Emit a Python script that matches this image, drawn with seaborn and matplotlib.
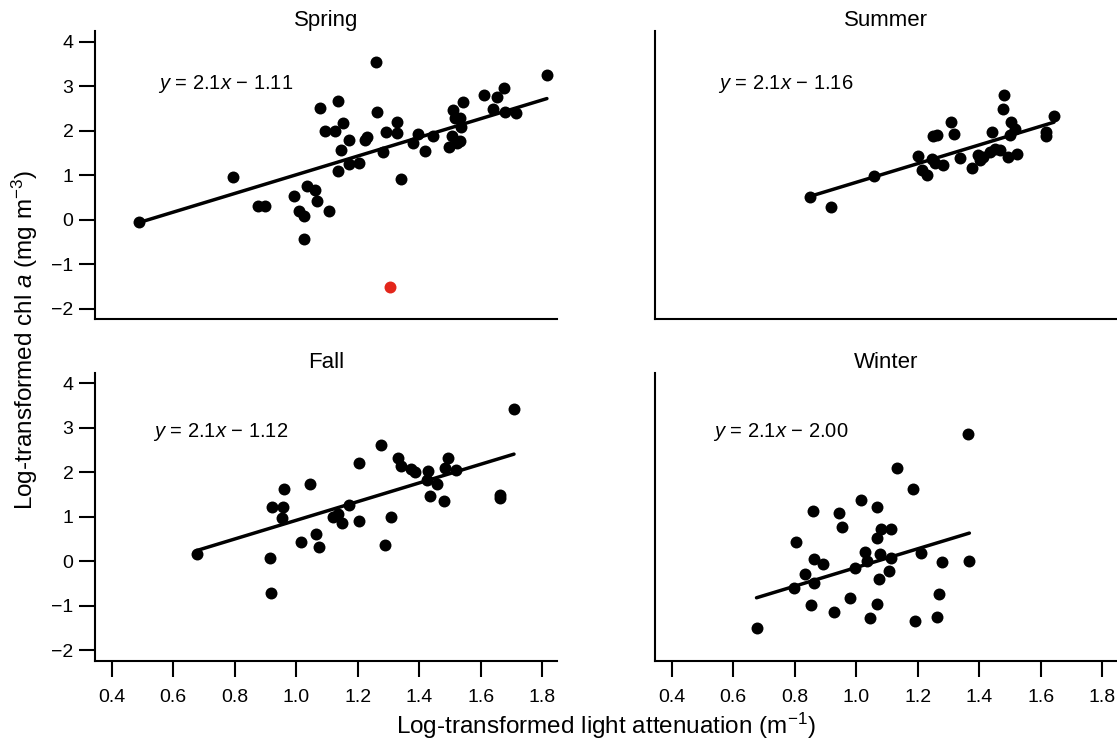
import numpy as np
import pandas as pd
import matplotlib
matplotlib.use("Agg")
import matplotlib.pyplot as plt
import seaborn as sns

# data
seasons = ["Spring", "Summer", "Fall", "Winter"]

spring_x = [0.489, 0.793, 0.877, 0.898, 0.994, 1.010, 1.024, 1.024, 1.036, 1.062,
            1.066, 1.105, 1.077, 1.137, 1.094, 1.126, 1.151, 1.173, 1.145, 1.170,
            1.205, 1.135, 1.224, 1.231, 1.259, 1.264, 1.291, 1.281, 1.329, 1.328,
            1.340, 1.381, 1.397, 1.420, 1.446, 1.509, 1.541, 1.516, 1.533, 1.535,
            1.505, 1.498, 1.522, 1.533, 1.609, 1.652, 1.676, 1.639, 1.679, 1.715, 1.815]
spring_y = [-0.05, 0.96, 0.31, 0.31, 0.54, 0.20, 0.09, -0.43, 0.76, 0.67,
            0.42, 0.19, 2.50, 2.67, 2.00, 2.00, 2.17, 1.79, 1.57, 1.26,
            1.28, 1.09, 1.79, 1.85, 3.54, 2.41, 1.96, 1.52, 2.20, 1.94,
            0.91, 1.73, 1.93, 1.55, 1.87, 2.47, 2.64, 2.28, 2.28, 2.09,
            1.87, 1.64, 1.72, 1.76, 2.80, 2.75, 2.95, 2.48, 2.43, 2.39, 3.24]
spring_outlier_x = [1.305]
spring_outlier_y = [-1.51]

summer_x = [0.850, 0.917, 1.059, 1.200, 1.213, 1.229, 1.245, 1.251, 1.262, 1.256,
            1.283, 1.307, 1.318, 1.337, 1.375, 1.397, 1.413, 1.402, 1.440, 1.451,
            1.467, 1.480, 1.476, 1.502, 1.516, 1.500, 1.495, 1.524, 1.617, 1.617,
            1.643, 1.435]
summer_y = [0.52, 0.28, 0.99, 1.43, 1.12, 1.01, 1.36, 1.87, 1.91, 1.27,
            1.23, 2.20, 1.93, 1.38, 1.16, 1.46, 1.42, 1.35, 1.98, 1.58,
            1.57, 2.80, 2.48, 2.20, 2.04, 1.91, 1.41, 1.48, 1.98, 1.87,
            2.34, 1.52]

fall_x = [0.676, 0.915, 0.918, 0.920, 0.960, 0.956, 0.953, 1.015, 1.045, 1.064,
          1.073, 1.119, 1.137, 1.150, 1.173, 1.203, 1.203, 1.275, 1.289, 1.308,
          1.331, 1.340, 1.372, 1.386, 1.427, 1.424, 1.457, 1.435, 1.479, 1.495,
          1.484, 1.519, 1.663, 1.663, 1.708]
fall_y = [0.17, 0.07, -0.71, 1.21, 1.62, 1.23, 0.97, 0.43, 1.74, 0.62,
          0.32, 0.99, 1.07, 0.87, 1.26, 2.20, 0.91, 2.62, 0.36, 0.99,
          2.33, 2.14, 2.08, 2.00, 2.02, 1.83, 1.74, 1.47, 1.35, 2.32,
          2.09, 2.04, 1.49, 1.42, 3.42]

winter_x = [0.676, 0.803, 0.861, 0.834, 0.798, 0.863, 0.863, 0.893, 0.852, 0.928,
            0.943, 0.954, 0.980, 0.995, 1.015, 1.028, 1.036, 1.045, 1.069, 1.067,
            1.080, 1.112, 1.078, 1.075, 1.069, 1.112, 1.108, 1.132, 1.186, 1.190,
            1.211, 1.269, 1.264, 1.278, 1.365, 1.368]
winter_y = [-1.51, 0.43, 1.14, -0.28, -0.60, 0.06, -0.49, -0.07, -0.99, -1.14,
            1.08, 0.77, -0.82, -0.15, 1.38, 0.20, 0.00, -1.27, 1.23, 0.52,
            0.73, 0.73, 0.16, -0.40, -0.97, 0.07, -0.21, 2.09, 1.62, -1.35,
            0.19, -0.73, -1.26, -0.02, 2.85, 0.00]

# fitted lines (common slope), intercepts as drawn, and the printed equations
line_slope = 2.1
line_intercept = [-1.09, -1.26, -1.18, -2.24]
equation_text = ["1.11", "1.16", "1.12", "2.00"]

xs = [spring_x, summer_x, fall_x, winter_x]
ys = [spring_y, summer_y, fall_y, winter_y]

sns.set_theme(style="ticks")
plt.rcParams["font.family"] = ["Liberation Sans", "DejaVu Sans"]
plt.rcParams["mathtext.fontset"] = "custom"
plt.rcParams["mathtext.rm"] = "Liberation Sans"
plt.rcParams["mathtext.it"] = "Liberation Sans:italic"
for key in ["text.color", "axes.edgecolor", "xtick.color", "ytick.color",
            "axes.labelcolor"]:
    plt.rcParams[key] = "black"
plt.rcParams["axes.linewidth"] = 1.5

fig, axes = plt.subplots(2, 2, figsize=(11.17, 7.43), dpi=100, sharex=True, sharey=True)
fig.subplots_adjust(left=0.0851, right=1.0, top=0.9583, bottom=0.1104,
                    wspace=0.212, hspace=0.184)

for i, ax in enumerate(axes.flat):
    df = pd.DataFrame({"x": xs[i], "y": ys[i]})
    sns.scatterplot(data=df, x="x", y="y", ax=ax, color="black", s=74,
                    linewidth=0, zorder=3)
    if i == 0:
        sns.scatterplot(x=spring_outlier_x, y=spring_outlier_y, ax=ax,
                        color="#e3261b", s=74, linewidth=0, zorder=3)
    lx = np.array([min(xs[i]), max(xs[i])])
    sns.lineplot(x=lx, y=line_slope * lx + line_intercept[i], ax=ax,
                 color="black", linewidth=2.5, zorder=2)
    ty = 3.04 if i < 2 else 2.9
    tx = 0.55 if i < 2 else 0.535
    ax.text(tx, ty, "$y$ = 2.1$x$ \u2212 " + equation_text[i],
            fontsize=14.5, ha="left", va="center")
    ax.set_title(seasons[i], fontsize=16, pad=1 if i < 2 else -3)
    ax.set_xlabel("")
    ax.set_ylabel("")
    sns.despine(ax=ax)
    ax.tick_params(length=11.5, width=1.5, labelsize=14)
    ax.tick_params(axis="y", pad=4)
    ax.tick_params(axis="x", pad=9)
    if i < 2:
        ax.tick_params(axis="x", bottom=False, labelbottom=False)
    if i % 2 == 1:
        ax.tick_params(axis="y", left=False, labelleft=False)

ax0 = axes[0, 0]
ax0.set_xlim(0.346, 1.848)
ax0.set_ylim(-2.24, 4.24)
ax0.set_xticks([0.4, 0.6, 0.8, 1.0, 1.2, 1.4, 1.6, 1.8])
ax0.set_xticklabels(["0.4", "0.6", "0.8", "1.0", "1.2", "1.4", "1.6", "1.8"])
ax0.set_yticks([-2, -1, 0, 1, 2, 3, 4])

fig.text(0.5423, 0.0117, "Log-transformed light attenuation (m$^{\u22121}$)",
         ha="center", va="baseline", fontsize=17.5)
fig.text(0.0224, 0.5424, "Log-transformed chl $a$ (mg m$^{\u22123}$)",
         ha="center", va="center", rotation=90, fontsize=17.5)

fig.savefig("out.png", dpi=100)
